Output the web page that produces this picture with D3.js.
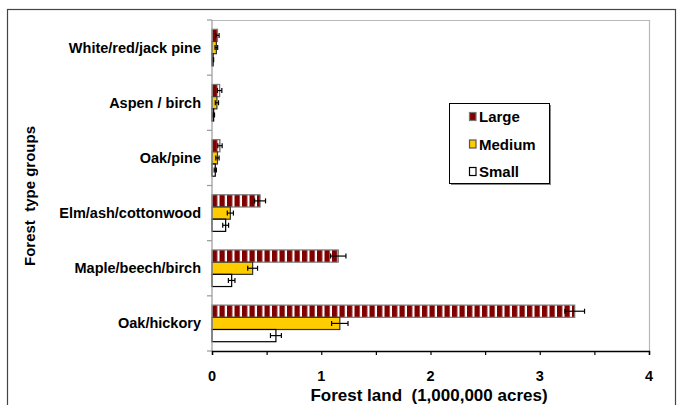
<!DOCTYPE html>
<html><head><meta charset="utf-8">
<script src="https://cdn.jsdelivr.net/npm/d3@7"></script>
<style>body{margin:0;background:#fff}svg{display:block}text{font-family:Arial,"Liberation Sans",sans-serif;font-weight:bold;fill:#000}</style>
</head><body>
<svg id="c" width="680" height="405"></svg>
<script>
const categories = ["White/red/jack pine","Aspen / birch","Oak/pine","Elm/ash/cottonwood","Maple/beech/birch","Oak/hickory"];
const seriesNames = ["Large","Medium","Small"];
const largeVals  = [0.05, 0.07, 0.073, 0.44, 1.156, 3.32];
const largeErr   = [0.015,0.02, 0.02, 0.05, 0.07, 0.09];
const mediumVals = [0.04, 0.045,0.05, 0.168,0.372,1.17];
const mediumErr  = [0.012,0.015,0.015,0.028,0.045,0.075];
const smallVals  = [0.01, 0.015,0.03, 0.125,0.18, 0.585];
const smallErr   = [0.005,0.008,0.01, 0.027,0.03, 0.05];
const xTicks = [0,0.5,1,1.5,2,2.5,3,3.5,4];
const xLabels = [0,1,2,3,4];

const svg = d3.select("#c");
const defs = svg.append("defs");
const pat = defs.append("pattern").attr("id","stripe").attr("patternUnits","userSpaceOnUse")
  .attr("x",212).attr("y",0).attr("width",7.5).attr("height",10);
pat.append("rect").attr("width",7.5).attr("height",10).attr("fill","#800000");
pat.append("rect").attr("x",5.3).attr("width",2.2).attr("height",10).attr("fill","#fff");

// outer border
svg.append("rect").attr("x",7.5).attr("y",9.5).attr("width",668).attr("height",410)
  .attr("fill","none").attr("stroke","#444").attr("stroke-width",1.2);

const m = {l:212, r:649, t:20, b:351};
const x = d3.scaleLinear().domain([0,4]).range([m.l,m.r]);
const y = d3.scaleBand().domain(categories).range([m.t,m.b]).paddingInner(0).paddingOuter(0);
const inner = d3.scaleBand().domain(seriesNames).range([9.3, y.bandwidth()-9.3]);

// plot frame
svg.append("path").attr("d",`M${m.l},${m.t+0.5}H${m.r+0.5}V${m.b}`).attr("fill","none").attr("stroke","#b8b8b8").attr("stroke-width",1.2);

const series = [
  {name:"Large", vals:largeVals, err:largeErr, fill:"url(#stripe)", stroke:"#777"},
  {name:"Medium", vals:mediumVals, err:mediumErr, fill:"#ffcc00", stroke:"#333"},
  {name:"Small", vals:smallVals, err:smallErr, fill:"#fff", stroke:"#000"}
];

series.forEach(s=>{
  const g = svg.append("g");
  g.selectAll("rect").data(categories).join("rect")
    .attr("x",x(0)).attr("y",c=>y(c)+inner(s.name))
    .attr("width",(c,i)=>x(s.vals[i])-x(0)).attr("height",inner.bandwidth())
    .attr("fill",s.fill).attr("stroke",s.stroke).attr("stroke-width",1.2);
  const e = svg.append("g").attr("stroke","#000").attr("stroke-width",1.2);
  categories.forEach((c,i)=>{
    const cy = y(c)+inner(s.name)+inner.bandwidth()/2;
    const x1 = x(s.vals[i]-s.err[i]), x2 = x(s.vals[i]+s.err[i]);
    e.append("line").attr("x1",x1).attr("x2",x2).attr("y1",cy).attr("y2",cy);
    e.append("line").attr("x1",x1).attr("x2",x1).attr("y1",cy-2.5).attr("y2",cy+2.5);
    e.append("line").attr("x1",x2).attr("x2",x2).attr("y1",cy-2.5).attr("y2",cy+2.5);
  });
});

// y axis
const ya = svg.append("g").attr("stroke","#999").attr("stroke-width",1.2);
ya.append("line").attr("x1",m.l).attr("x2",m.l).attr("y1",m.t).attr("y2",m.b);
[...categories.map(c=>y(c)), m.b].forEach(v=>{
  ya.append("line").attr("x1",m.l-5).attr("x2",m.l).attr("y1",v).attr("y2",v);
});
svg.append("g").selectAll("text").data(categories).join("text")
  .attr("x",201).attr("y",c=>y(c)+y.bandwidth()/2).attr("dy","0.35em")
  .attr("text-anchor","end").attr("font-size","14.5px").text(c=>c);

// x axis
const xa = svg.append("g").attr("transform",`translate(0,${m.b})`)
  .call(d3.axisBottom(x).tickValues(xTicks).tickSize(4).tickFormat(""));
xa.select(".domain").attr("stroke","#000").attr("stroke-width",1.4);
xa.selectAll(".tick line").attr("stroke","#000").attr("stroke-width",1.2);
svg.append("g").selectAll("text").data(xLabels).join("text")
  .attr("x",d=>x(d)).attr("y",381).attr("text-anchor","middle").attr("font-size","14.5px").text(d=>d);

svg.append("text").attr("x",429).attr("y",401).attr("text-anchor","middle").attr("font-size","17px")
  .attr("xml:space","preserve").text("Forest land  (1,000,000 acres)");
svg.append("text").attr("transform","translate(35,196) rotate(-90)").attr("text-anchor","middle")
  .attr("font-size","15px").attr("xml:space","preserve").text("Forest  type groups");

// legend
const lg = svg.append("g");
lg.append("rect").attr("x",451).attr("y",105).attr("width",100).attr("height",80).attr("fill","#888");
lg.append("rect").attr("x",449.5).attr("y",103.5).attr("width",100).attr("height",80).attr("fill","#fff").attr("stroke","#000").attr("stroke-width",1);
const legFills = {Large:"#800000", Medium:"#ffcc00", Small:"#fff"};
const legStroke = {Large:"#777", Medium:"#555", Small:"#000"};
seriesNames.forEach((n,i)=>{
  const cy = 117 + i*27.5;
  lg.append("rect").attr("x",469.5).attr("y",cy-4.5).attr("width",6.5).attr("height",8).attr("fill",legFills[n]).attr("stroke",legStroke[n]).attr("stroke-width",1.2);
  lg.append("text").attr("x",479).attr("y",cy).attr("dy","0.36em").attr("font-size","15px").text(n);
});
</script>
</body></html>
